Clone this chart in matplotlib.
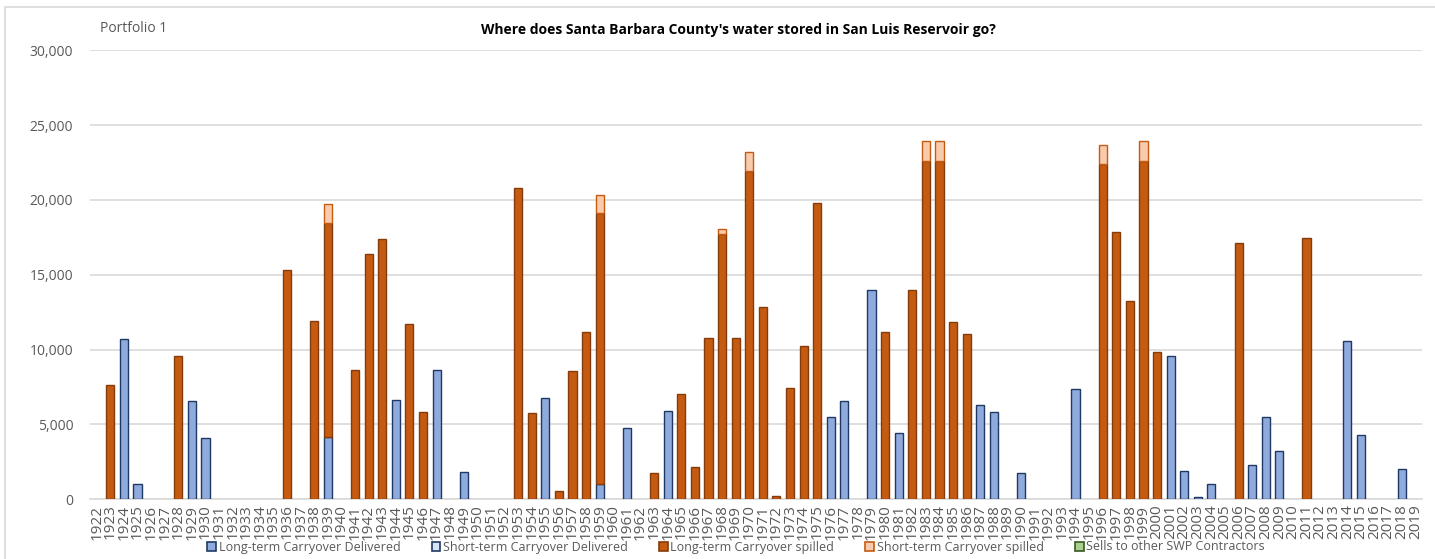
import numpy as np
import matplotlib.pyplot as plt
from matplotlib.patches import Patch, Rectangle

plt.rcParams['font.family'] = ['Open Sans', 'DejaVu Sans']

# years on the x axis
years = [str(y) for y in range(1922, 2020)]

# acre-feet, one value per year (1922..2019)
long_delivered = [
    0, 0, 10700, 1000, 0, 0, 0, 6550, 4080, 0,          # 1922-1931
    0, 0, 0, 0, 0, 0, 0, 4150, 0, 0,                    # 1932-1941
    0, 0, 6620, 0, 0, 8600, 0, 1800, 0, 0,              # 1942-1951
    0, 0, 0, 6760, 0, 0, 0, 980, 0, 4760,               # 1952-1961
    0, 0, 5920, 0, 0, 0, 0, 0, 0, 0,                    # 1962-1971
    0, 0, 0, 0, 5480, 6560, 0, 14000, 0, 4420,          # 1972-1981
    0, 0, 0, 0, 0, 6320, 5820, 0, 1760, 0,              # 1982-1991
    0, 0, 7360, 0, 0, 0, 0, 0, 0, 9580,                 # 1992-2001
    1890, 110, 1000, 0, 0, 2290, 5510, 3240, 0, 0,      # 2002-2011
    0, 0, 10540, 4290, 0, 0, 1980, 0,                   # 2012-2019
]
short_delivered = [0] * 98
long_spilled = [
    0, 7620, 0, 0, 0, 0, 9560, 0, 0, 0,
    0, 0, 0, 0, 15330, 0, 11880, 14340, 0, 8600,
    16400, 17380, 0, 11680, 5840, 0, 0, 0, 0, 0,
    0, 20780, 5760, 0, 510, 8560, 11160, 18130, 0, 0,
    0, 1710, 0, 7000, 2130, 10780, 17750, 10740, 21950, 12820,
    200, 7400, 10220, 19820, 0, 0, 0, 0, 11160, 0,
    14000, 22640, 22640, 11870, 11040, 0, 0, 0, 0, 0,
    0, 0, 0, 0, 22420, 17890, 13270, 22640, 9840, 0,
    0, 0, 0, 0, 17130, 0, 0, 0, 0, 17470,
    0, 0, 0, 0, 0, 0, 0, 0,
]
short_spilled = [
    0, 0, 0, 0, 0, 0, 0, 0, 0, 0,
    0, 0, 0, 0, 0, 0, 0, 1260, 0, 0,
    0, 0, 0, 0, 0, 0, 0, 0, 0, 0,
    0, 0, 0, 0, 0, 0, 0, 1250, 0, 0,
    0, 0, 0, 0, 0, 0, 300, 0, 1270, 0,
    0, 0, 0, 0, 0, 0, 0, 0, 0, 0,
    0, 1290, 1290, 0, 0, 0, 0, 0, 0, 0,
    0, 0, 0, 0, 1250, 0, 0, 1290, 0, 0,
    0, 0, 0, 0, 0, 0, 0, 0, 0, 0,
    0, 0, 0, 0, 0, 0, 0, 0,
]
sells = [0] * 98

series = [
    ('Long-term Carryover Delivered', long_delivered, '#8FAADC', '#203864'),
    ('Short-term Carryover Delivered', short_delivered, '#DAE3F3', '#203864'),
    ('Long-term Carryover spilled', long_spilled, '#C55A11', '#843C0C'),
    ('Short-term Carryover spilled', short_spilled, '#F8CBAD', '#C55A11'),
    ('Sells to other SWP Contractors', sells, '#A9D18E', '#385723'),
]

fig = plt.figure(figsize=(14.35, 5.59), dpi=100)
ax = fig.add_axes([0.0627, 0.1073, 0.9283, 0.8024])

x = np.arange(len(years))
bottom = np.zeros(len(years))
handles = []
for name, vals, fc, ec in series:
    vals = np.array(vals, dtype=float)
    mask = vals > 0
    ax.bar(x[mask], vals[mask], 0.6, bottom=bottom[mask], color=fc,
           edgecolor=ec, linewidth=1.0, zorder=3)
    bottom += vals
    handles.append(Patch(facecolor=fc, edgecolor=ec, linewidth=1.2, label=name))

ax.set_xlim(-0.5, len(years) - 0.5)
ax.set_ylim(0, 30000)
ax.set_yticks(range(0, 30001, 5000))
ax.set_yticklabels([f'{v:,}' for v in range(0, 30001, 5000)])
ax.set_xticks(x)
ax.set_xticklabels(years, rotation=90)
ax.tick_params(axis='y', length=0, pad=12, labelsize=10, labelcolor='#595959')
ax.tick_params(axis='x', length=0, pad=4, labelsize=11, labelcolor='#595959')
ax.grid(axis='y', color='#D9D9D9', linewidth=1.2, zorder=0)
for s in ['top', 'right', 'left']:
    ax.spines[s].set_visible(False)
ax.spines['bottom'].set_color('#D9D9D9')
ax.spines['bottom'].set_linewidth(1.2)

fig.text(738 / 1435, 1 - 30 / 559, "Where does Santa Barbara County's water stored in San Luis Reservoir go?",
         ha='center', va='center', fontsize=10, fontweight='bold', color='black')
fig.text(100 / 1435, 1 - 28 / 559, 'Portfolio 1', ha='left', va='center',
         fontsize=10, color='#595959')

fig.legend(handles=handles, loc='center', bbox_to_anchor=(736 / 1435, 12 / 559), ncol=5,
           frameon=False, fontsize=9, handlelength=0.7, handleheight=0.7,
           handletextpad=0.2, columnspacing=2.5, labelcolor='#595959')

fig.patches.append(Rectangle((5 / 1435, -0.1), 1.2, 1 - 7 / 559 + 0.1, transform=fig.transFigure,
                             fill=False, edgecolor='#D9D9D9', linewidth=1.2))

fig.savefig('out.png', dpi=100)
